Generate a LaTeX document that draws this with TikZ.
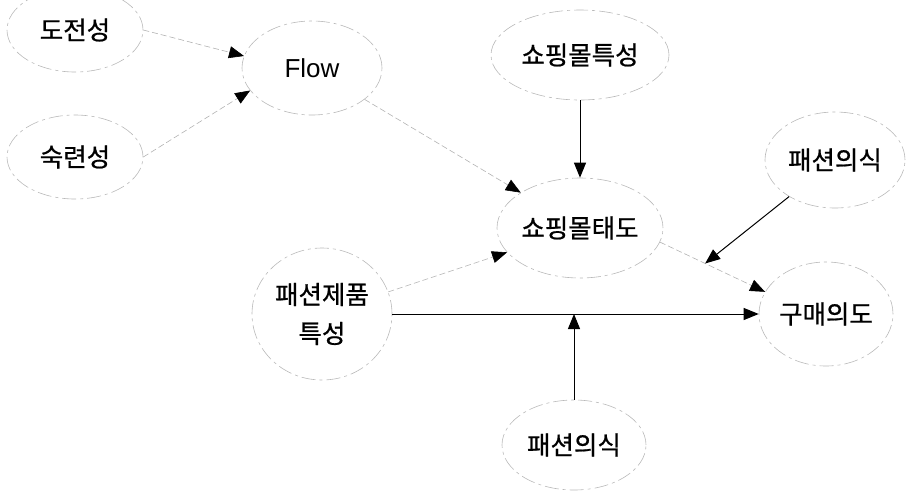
\documentclass[tikz,border=0pt]{standalone}
\usepackage{fontspec}
\setmainfont{Noto Sans CJK KR}
\newfontfamily\krfont[FakeBold=0.8]{Noto Sans CJK KR}
\newfontfamily\latinfont{Liberation Sans}
\usetikzlibrary{shapes.geometric,arrows.meta,calc}
\tikzset{
  ell/.style={ellipse, draw=gray!55, line width=0.6pt, dash pattern=on 14pt off 4pt on 3pt off 4pt, inner sep=0pt,
    font=\krfont\fontsize{25.5pt}{39pt}\selectfont, align=center},
  tip/.style={-{Triangle[length=15pt,width=12pt,color=black,fill=black]}},
  faint/.style={tip, draw=gray!60, line width=0.6pt, dash pattern=on 6pt off 3pt},
  firm/.style={tip, draw=black, line width=1pt},
}
\begin{document}
\begin{tikzpicture}[x=1pt,y=-1pt]
\useasboundingbox (0,0) rectangle (906,491);
\node[ell, minimum width=136pt, minimum height=84pt] (dj) at (75,30) {도전성};
\node[ell, minimum width=136pt, minimum height=84pt] (sr) at (75,157) {숙련성};
\node[ell, minimum width=140pt, minimum height=94pt, font=\latinfont\fontsize{26pt}{30pt}\selectfont] (fl) at (312,68) {Flow};
\node[ell, minimum width=178pt, minimum height=90pt] (tk) at (580,55) {쇼핑몰특성};
\node[ell, minimum width=166pt, minimum height=100pt] (tae) at (580,228) {쇼핑몰태도};
\node[ell, minimum width=140pt, minimum height=96pt] (pr) at (835,160) {패션의식};
\node[ell, minimum width=134pt, minimum height=104pt] (gu) at (826,314) {구매의도};
\node[ell, minimum width=140pt, minimum height=132pt] (pj) at (322,314) {패션제품\\특성};
\node[ell, minimum width=144pt, minimum height=90pt] (pb) at (574,445) {패션의식};
\path (tae.-10) -- (gu.160) coordinate[pos=0.43] (m1);
\coordinate (m2) at (pb.north |- gu.west);
\draw[faint] (dj.east) -- (fl.170);
\draw[faint] (sr.east) -- (fl.200);
\draw[faint] (fl) -- (tae);
\draw[firm] (tk) -- (tae);
\draw[faint] (pj) -- (tae);
\draw[faint] (tae.-10) -- (gu.160);
\draw[firm] (pj) -- (gu);
\draw[firm] (pr) -- (m1);
\draw[firm] (pb) -- (m2);
\end{tikzpicture}
\end{document}
